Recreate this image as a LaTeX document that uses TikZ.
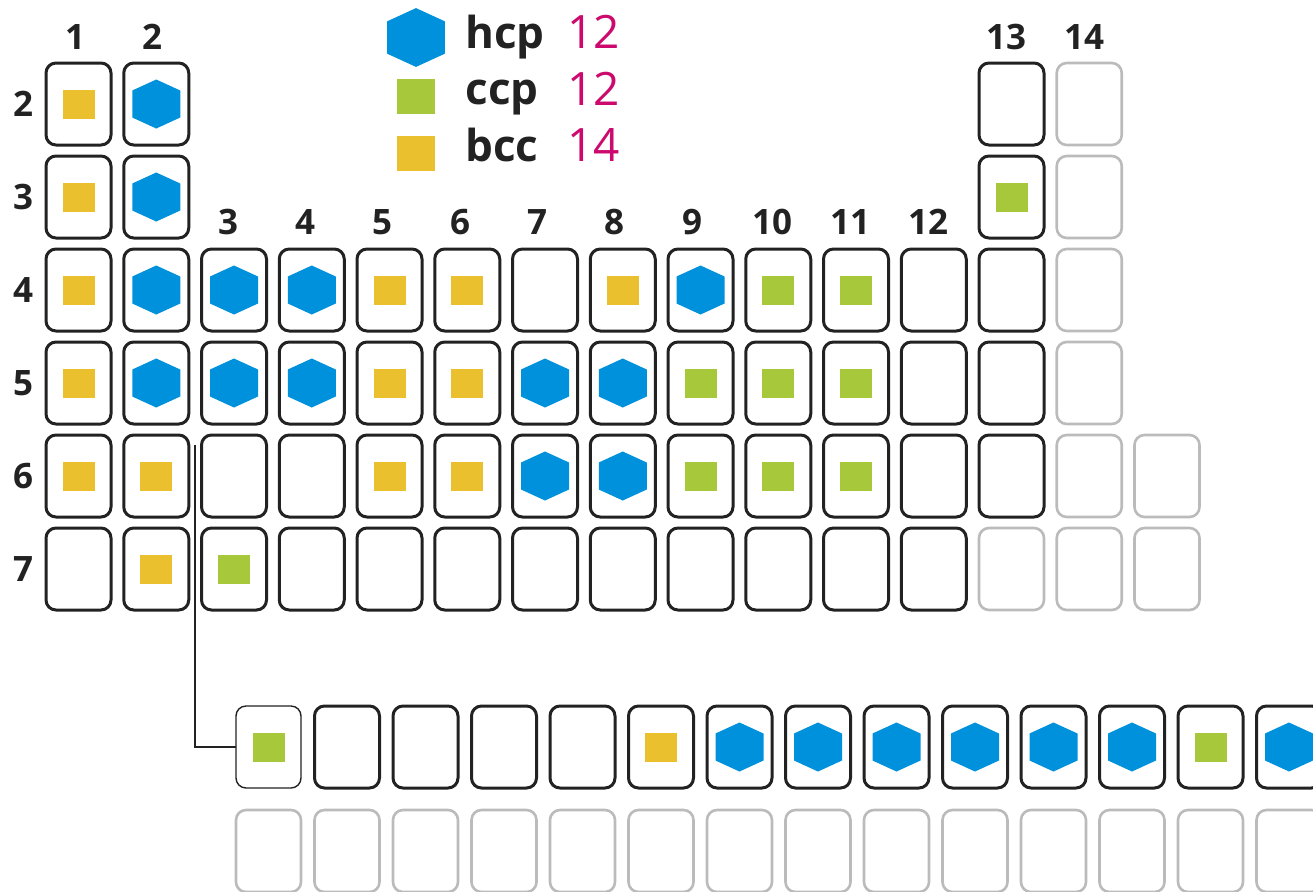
\documentclass[tikz,border=0pt]{standalone}
\usepackage{fontspec}
\setmainfont{Open Sans}
\usetikzlibrary{positioning}

\definecolor{hcpblue}{HTML}{0091DC}
\definecolor{ccpgreen}{HTML}{A8C83C}
\definecolor{bccyellow}{HTML}{EAC02E}
\definecolor{cnmagenta}{HTML}{CC0A6E}
\definecolor{framegray}{HTML}{BBBBBB}
\definecolor{frameblack}{HTML}{222222}

\begin{document}
\begin{tikzpicture}[x=0.5pt, y=-0.5pt,
  elem/.style={draw=frameblack, line width=1.5pt, rounded corners=5pt, minimum width=32.5pt, minimum height=41pt, inner sep=0pt, outer sep=0pt},
  ghost/.style={elem, draw=framegray, line width=1.3pt},
  on-bcc/.style={elem}, on-hcp/.style={elem}, on-ccp/.style={elem}, on-none/.style={elem}, on-gry/.style={ghost},
  lbl/.style={font=\fontsize{17.5pt}{17.5pt}\selectfont\bfseries, text=frameblack, inner sep=0pt},
  key/.style={font=\fontsize{22pt}{22pt}\selectfont\bfseries, text=frameblack, anchor=base west, inner sep=0pt},
  num/.style={font=\fontsize{23pt}{23pt}\selectfont, text=cnmagenta, anchor=base west, inner sep=0pt},
  hcp/.pic={\fill[hcpblue] (0,-24.5) -- (24,-13.5) -- (24,13.5) -- (0,24.5) -- (-24,13.5) -- (-24,-13.5) -- cycle;},
  ccp/.pic={\fill[ccpgreen] (-16,-14.5) rectangle (16,14.5);},
  bcc/.pic={\fill[bccyellow] (-16,-14.5) rectangle (16,14.5);},
  none/.pic={}, gry/.pic={}]
  \useasboundingbox (0,0) rectangle (1313,891);
  \clip (0,0) rectangle (1313,891);

  % Legend
  \pic[scale=1.2] at (416,37.5) {hcp};
  \pic[scale=1.2] at (416,96.5) {ccp};
  \pic[scale=1.2] at (416,153.5) {bcc};
  \node[key] (t-hcp) at (465,48) {hcp};
  \node[key] (t-ccp) at (465,104) {ccp};
  \node[key] (t-bcc) at (465,161) {bcc};
  \node[num] (n-hcp) at (567,48) {12};
  \node[num] (n-ccp) at (567,105) {12};
  \node[num] (n-bcc) at (567,161) {14};

  % Group and period numbers
  \foreach \c/\x/\y in {1/75/37, 2/152/37, 3/228/222, 4/305/222, 5/382/222, 6/460/222, 7/537/222,
      8/614/222, 9/692/222, 10/772/222, 11/850/222, 12/928/222, 13/1006/37, 14/1084/37}
    \node[lbl] (k\c) at (\x,\y) {\c};
  \foreach \r in {2,...,7}
    \node[lbl] (p\r) at (23,{104+(\r-2)*93}) {\r};

  % Main table
  \foreach \r/\cells in {
      2/{1/bcc,2/hcp,13/none,14/gry},
      3/{1/bcc,2/hcp,13/ccp,14/gry},
      4/{1/bcc,2/hcp,3/hcp,4/hcp,5/bcc,6/bcc,7/none,8/bcc,9/hcp,10/ccp,11/ccp,12/none,13/none,14/gry},
      5/{1/bcc,2/hcp,3/hcp,4/hcp,5/bcc,6/bcc,7/hcp,8/hcp,9/ccp,10/ccp,11/ccp,12/none,13/none,14/gry},
      6/{1/bcc,2/bcc,3/none,4/none,5/bcc,6/bcc,7/hcp,8/hcp,9/ccp,10/ccp,11/ccp,12/none,13/none,14/gry,15/gry},
      7/{1/none,2/bcc,3/ccp,4/none,5/none,6/none,7/none,8/none,9/none,10/none,11/none,12/none,13/gry,14/gry,15/gry}}
    \foreach \c/\k in \cells {
      \node[on-\k] (r\r c\c) at ({78.5+(\c-1)*77.75},{104+(\r-2)*93}) {};
      \pic at (r\r c\c) {\k};
    }

  % f-block
  \node[elem, line width=0.7pt] (ln1) at (268.5,747) {};
  \pic at (ln1) {ccp};
  \foreach \i/\k in {2/none,3/none,4/none,5/none,6/bcc,7/hcp,8/hcp,9/hcp,10/hcp,11/hcp,12/hcp,13/ccp,14/hcp} {
    \node[elem] (ln\i) at ({268.5+(\i-1)*78.5},747) {};
    \pic at (ln\i) {\k};
  }
  \foreach \i in {1,...,14}
    \node[ghost] (an\i) at ({268.5+(\i-1)*78.5},851) {};

  \coordinate (drop) at (195,445);
  \draw[frameblack, line width=1pt] (drop) |- (ln1.west);
\end{tikzpicture}
\end{document}
